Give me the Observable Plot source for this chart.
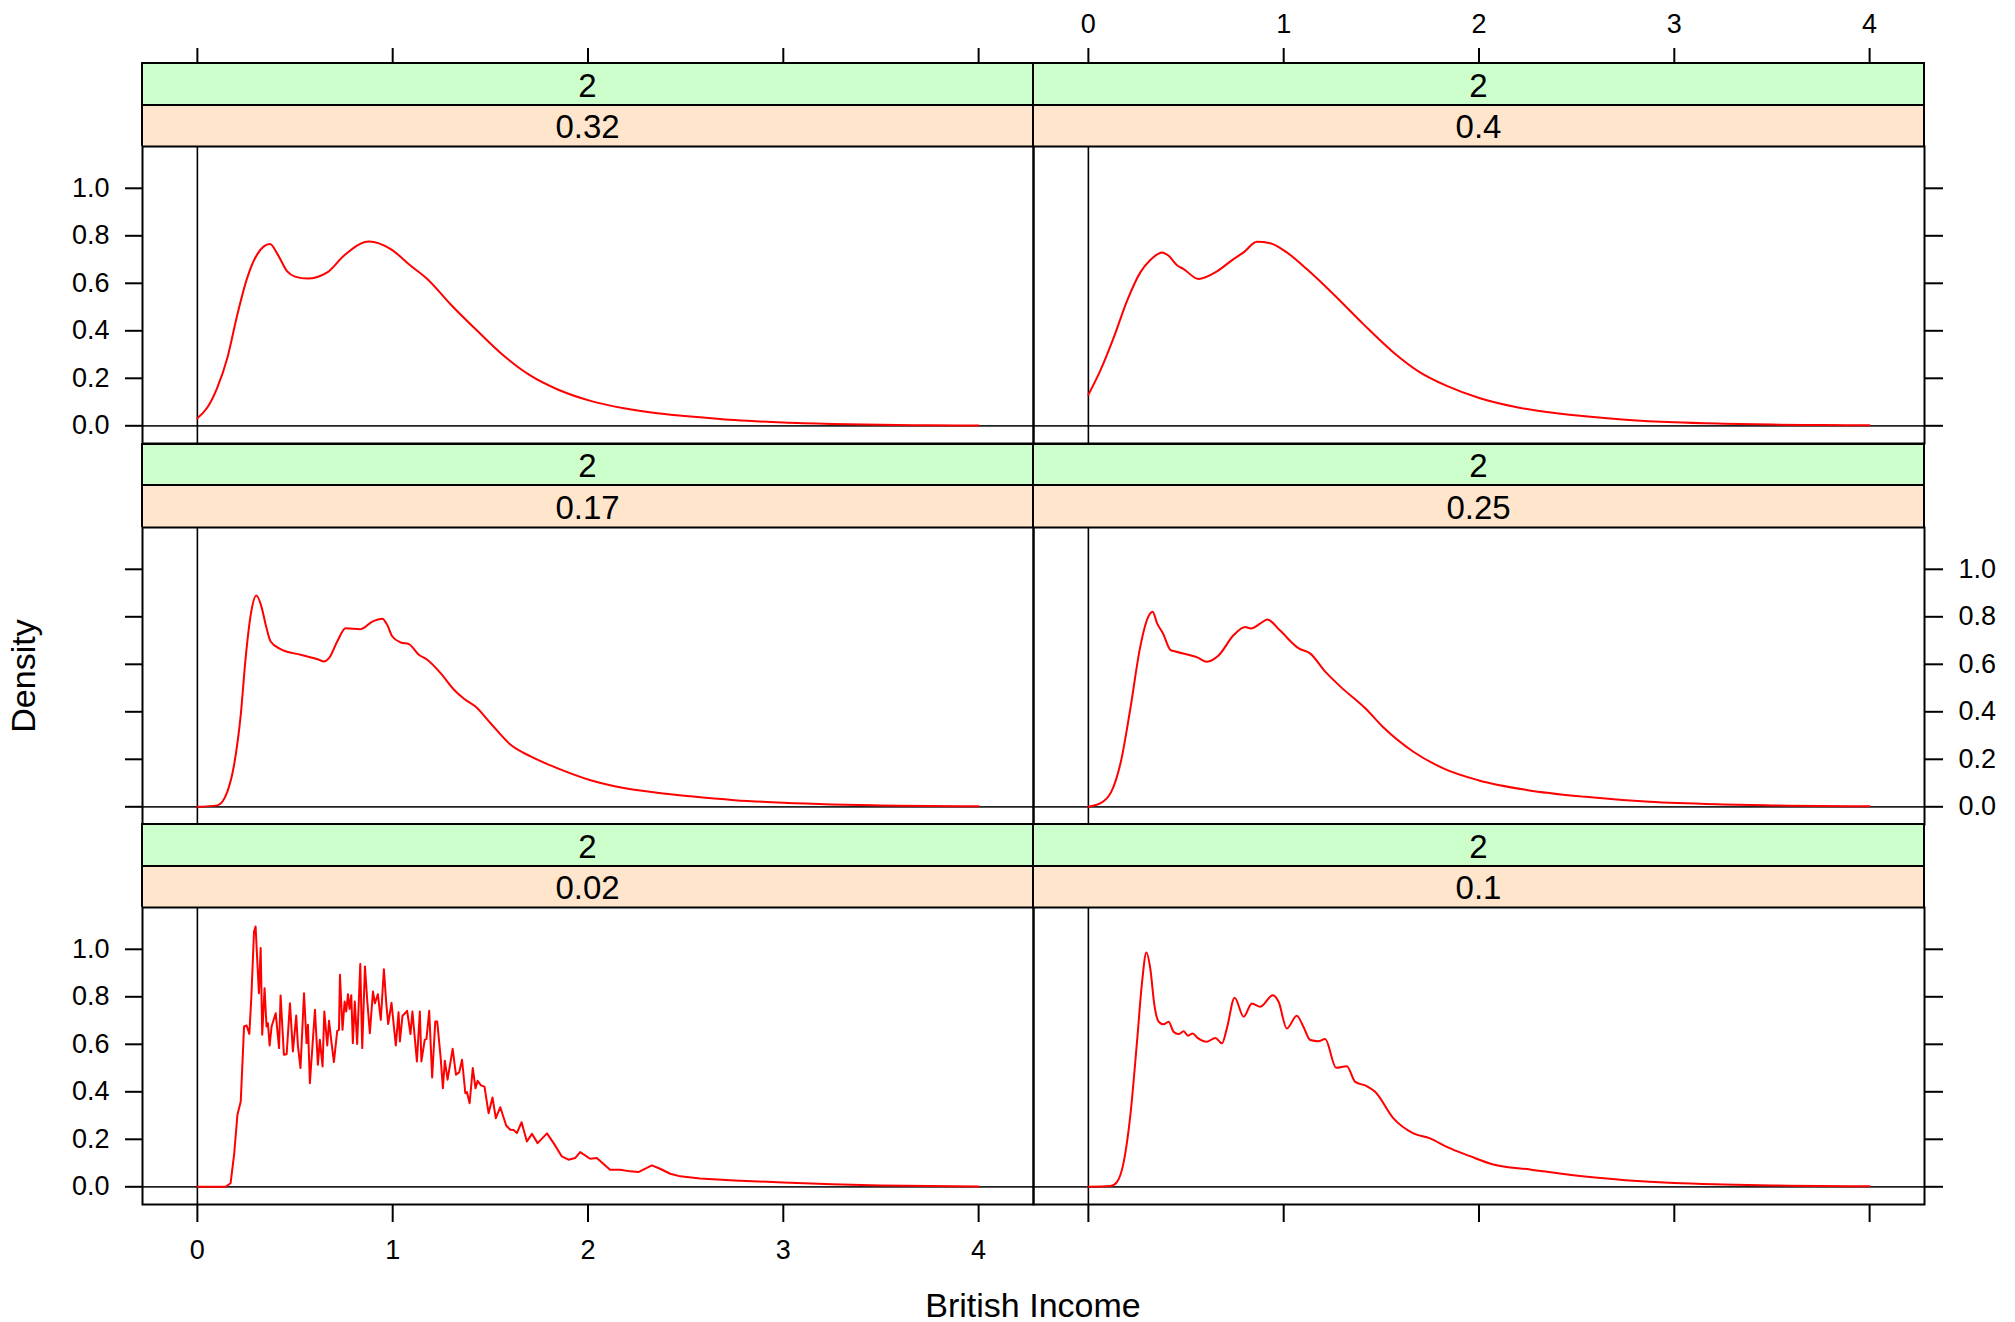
<!DOCTYPE html>
<html><head><meta charset="utf-8">
<script src="https://cdn.jsdelivr.net/npm/d3@7"></script>
<script src="https://cdn.jsdelivr.net/npm/@observablehq/plot@0.6"></script>
<style>
body{margin:0;background:#fff;}
#chart{position:relative;width:2015px;height:1322px;font-family:"Liberation Sans",Arial,Helvetica,sans-serif;overflow:hidden;background:#fff;color:#000}
.strip{position:absolute;box-sizing:border-box;border:2px solid #000;border-bottom:none;}
.stext{position:absolute;font-size:33px;line-height:33px;height:33px;white-space:nowrap;transform:translate(-50%,-50%)}
.title{position:absolute;font-size:34px;white-space:nowrap;transform:translate(-50%,-50%)}
</style></head><body><div id="chart"></div>
<script>
// ---- data ----
const xTicks = [0, 1, 2, 3, 4];
const xTickLabels = ["0", "1", "2", "3", "4"];
const yTicks = [0, 0.2, 0.4, 0.6, 0.8, 1.0];
const yTickLabels = ["0.0", "0.2", "0.4", "0.6", "0.8", "1.0"];
const kernelLabel = "2";
const bandwidths = ["0.32", "0.4", "0.17", "0.25", "0.02", "0.1"];
const xTitle = "British Income";
const yTitle = "Density";

const dens032 = [[0,0.032],[0.051,0.077],[0.102,0.161],[0.154,0.288],[0.205,0.47],[0.256,0.625],[0.307,0.723],[0.372,0.765],[0.41,0.723],[0.46,0.65],[0.5,0.628],[0.563,0.62],[0.665,0.646],[0.75,0.716],[0.879,0.776],[0.99,0.744],[1.092,0.674],[1.177,0.618],[1.296,0.512],[1.433,0.4],[1.569,0.295],[1.706,0.211],[1.842,0.154],[2.013,0.105],[2.184,0.074],[2.354,0.053],[2.525,0.039],[2.75,0.024],[3.0,0.014],[3.25,0.008],[3.5,0.004],[3.75,0.002],[4.0,0.001]];
const dens04 = [[0,0.131],[0.061,0.232],[0.13,0.372],[0.198,0.526],[0.266,0.646],[0.317,0.698],[0.377,0.73],[0.411,0.716],[0.454,0.676],[0.488,0.66],[0.564,0.618],[0.658,0.65],[0.743,0.702],[0.795,0.73],[0.863,0.775],[0.931,0.769],[1.016,0.73],[1.118,0.66],[1.255,0.554],[1.408,0.428],[1.562,0.309],[1.698,0.225],[1.835,0.168],[2.005,0.116],[2.176,0.081],[2.346,0.058],[2.517,0.042],[2.75,0.026],[3.0,0.015],[3.25,0.009],[3.5,0.005],[3.75,0.003],[4.0,0.002]];
const dens017 = [[0,0],[0.102,0.006],[0.154,0.065],[0.188,0.177],[0.222,0.387],[0.247,0.626],[0.273,0.808],[0.302,0.89],[0.328,0.843],[0.35,0.766],[0.375,0.696],[0.426,0.664],[0.529,0.64],[0.623,0.619],[0.648,0.612],[0.674,0.626],[0.716,0.696],[0.759,0.752],[0.836,0.748],[0.896,0.78],[0.947,0.792],[0.972,0.766],[0.998,0.717],[1.041,0.692],[1.083,0.685],[1.134,0.64],[1.177,0.619],[1.245,0.563],[1.314,0.493],[1.365,0.455],[1.424,0.422],[1.501,0.352],[1.604,0.261],[1.706,0.212],[1.842,0.163],[2.013,0.112],[2.184,0.079],[2.354,0.059],[2.525,0.044],[2.75,0.028],[3.0,0.017],[3.25,0.01],[3.5,0.006],[3.75,0.003],[4.0,0.002]];
const dens025 = [[0,0],[0.059,0.014],[0.117,0.063],[0.166,0.189],[0.215,0.414],[0.264,0.667],[0.303,0.793],[0.329,0.821],[0.352,0.772],[0.382,0.73],[0.421,0.66],[0.45,0.653],[0.558,0.629],[0.607,0.611],[0.665,0.636],[0.744,0.723],[0.803,0.757],[0.832,0.751],[0.881,0.772],[0.916,0.789],[0.979,0.744],[1.077,0.667],[1.135,0.646],[1.214,0.568],[1.292,0.505],[1.419,0.414],[1.507,0.337],[1.664,0.232],[1.82,0.161],[1.996,0.112],[2.251,0.07],[2.545,0.042],[2.873,0.021],[3.25,0.01],[3.5,0.006],[3.75,0.003],[4.0,0.002]];
const dens01 = [[0,0],[0.113,0.003],[0.147,0.021],[0.181,0.105],[0.215,0.302],[0.249,0.611],[0.275,0.863],[0.297,0.987],[0.317,0.919],[0.338,0.765],[0.36,0.695],[0.385,0.684],[0.411,0.695],[0.436,0.653],[0.462,0.643],[0.488,0.655],[0.51,0.636],[0.534,0.646],[0.559,0.627],[0.607,0.611],[0.65,0.627],[0.684,0.604],[0.709,0.667],[0.749,0.796],[0.795,0.716],[0.837,0.772],[0.88,0.758],[0.945,0.807],[0.974,0.779],[1.016,0.667],[1.067,0.72],[1.101,0.674],[1.136,0.618],[1.178,0.613],[1.212,0.622],[1.269,0.501],[1.323,0.508],[1.366,0.442],[1.425,0.424],[1.468,0.4],[1.562,0.288],[1.664,0.225],[1.749,0.204],[1.835,0.168],[1.954,0.129],[2.073,0.094],[2.261,0.073],[2.517,0.045],[2.75,0.028],[3.0,0.016],[3.25,0.01],[3.5,0.006],[3.75,0.003],[4.0,0.002]];
const dens002 = [[0,0],[0.145,0],[0.17,0.015],[0.188,0.135],[0.205,0.303],[0.222,0.359],[0.239,0.675],[0.252,0.679],[0.266,0.644],[0.276,0.794],[0.29,1.075],[0.298,1.096],[0.315,0.815],[0.324,1.005],[0.332,0.64],[0.344,0.836],[0.354,0.675],[0.361,0.689],[0.37,0.595],[0.38,0.675],[0.401,0.731],[0.418,0.584],[0.426,0.806],[0.443,0.556],[0.457,0.558],[0.474,0.773],[0.489,0.57],[0.506,0.721],[0.515,0.591],[0.528,0.5],[0.546,0.815],[0.559,0.605],[0.566,0.682],[0.576,0.436],[0.602,0.745],[0.617,0.514],[0.627,0.619],[0.641,0.507],[0.65,0.738],[0.665,0.595],[0.674,0.699],[0.685,0.619],[0.699,0.525],[0.716,0.657],[0.725,0.661],[0.73,0.893],[0.743,0.661],[0.754,0.78],[0.762,0.738],[0.771,0.811],[0.779,0.749],[0.788,0.807],[0.796,0.605],[0.806,0.78],[0.818,0.601],[0.834,0.938],[0.844,0.584],[0.858,0.928],[0.87,0.78],[0.883,0.647],[0.899,0.822],[0.909,0.773],[0.924,0.811],[0.939,0.703],[0.955,0.916],[0.967,0.773],[0.977,0.685],[0.994,0.775],[1.016,0.595],[1.03,0.735],[1.037,0.612],[1.05,0.719],[1.074,0.741],[1.091,0.643],[1.101,0.738],[1.124,0.528],[1.139,0.738],[1.147,0.528],[1.164,0.619],[1.173,0.623],[1.187,0.741],[1.202,0.46],[1.218,0.696],[1.228,0.696],[1.245,0.549],[1.257,0.415],[1.267,0.531],[1.281,0.451],[1.307,0.581],[1.324,0.472],[1.341,0.483],[1.355,0.535],[1.372,0.394],[1.38,0.399],[1.394,0.352],[1.41,0.5],[1.424,0.415],[1.435,0.446],[1.452,0.427],[1.47,0.422],[1.491,0.31],[1.511,0.376],[1.528,0.289],[1.551,0.335],[1.581,0.258],[1.602,0.24],[1.619,0.239],[1.636,0.226],[1.66,0.272],[1.687,0.191],[1.713,0.223],[1.742,0.184],[1.79,0.225],[1.824,0.184],[1.866,0.128],[1.9,0.114],[1.934,0.121],[1.96,0.146],[2.011,0.118],[2.045,0.121],[2.074,0.1],[2.113,0.072],[2.165,0.072],[2.216,0.065],[2.258,0.062],[2.327,0.09],[2.369,0.076],[2.421,0.055],[2.472,0.044],[2.574,0.035],[2.75,0.027],[3.0,0.018],[3.25,0.011],[3.5,0.006],[3.75,0.003],[4.0,0.001]];

// ---- layout ----
const X_DOMAIN = [-0.281, 4.281];
const Y_DOMAIN = [-0.0745, 1.176];
const colX = [142, 1033];
const PW = 891, PH = 297;
const STRIP = 41.5;
const rowTop = r => 63 + r * 380.5;   // top edge of the strip pair
const FONT = '"Liberation Sans", Arial, Helvetica, sans-serif';

const panels = [
  {bw: bandwidths[0], data: dens032, col: 0, row: 0, curve: "monotone-x"},
  {bw: bandwidths[1], data: dens04,  col: 1, row: 0, curve: "monotone-x"},
  {bw: bandwidths[2], data: dens017, col: 0, row: 1, curve: "monotone-x"},
  {bw: bandwidths[3], data: dens025, col: 1, row: 1, curve: "monotone-x"},
  {bw: bandwidths[4], data: dens002, col: 0, row: 2, curve: "linear"},
  {bw: bandwidths[5], data: dens01,  col: 1, row: 2, curve: "monotone-x"}
];

const chart = document.getElementById("chart");
const baseStyle = {overflow: "visible", background: "transparent", fontFamily: FONT, fontSize: "27px", color: "#000", maxWidth: "none"};
const yFmt = d => yTickLabels[yTicks.indexOf(d)];
const xFmt = d => xTickLabels[xTicks.indexOf(d)];
const blank = () => "";

function place(el, left, top) {
  el.style.position = "absolute";
  el.style.left = left + "px";
  el.style.top = top + "px";
  chart.appendChild(el);
}
function strip(left, top, bg, label) {
  const d = document.createElement("div");
  d.className = "strip";
  d.style.left = (left - 1) + "px";
  d.style.top = (top - 1) + "px";
  d.style.width = (PW + 2) + "px";
  d.style.height = (STRIP + 1) + "px";
  d.style.background = bg;
  chart.appendChild(d);
  const s = document.createElement("div");
  s.className = "stext";
  s.style.left = (left + PW / 2) + "px";
  s.style.top = (top + STRIP / 2 + 1) + "px";
  s.textContent = label;
  chart.appendChild(s);
}

for (const p of panels) {
  const top = rowTop(p.row);
  const left = colX[p.col];
  strip(left, top, "#ccffcc", kernelLabel);
  strip(left, top + STRIP, "#ffe5cc", p.bw);
  const pTop = top + 2 * STRIP;

  const marks = [
    Plot.ruleY([0], {stroke: "#222", strokeWidth: 1.8}),
    Plot.ruleX([0], {stroke: "#000", strokeWidth: 1.6}),
    Plot.line(p.data, {x: d => d[0], y: d => d[1], stroke: "#ff0000", strokeWidth: 2, curve: p.curve}),
    Plot.frame({stroke: "#000", strokeWidth: 2})
  ];
  if (p.col === 0) {
    marks.push(Plot.axisY({anchor: "left", ticks: yTicks, tickSize: 17, tickPadding: 16, strokeWidth: 2, label: null,
      tickFormat: p.row === 1 ? blank : yFmt}));
  } else {
    marks.push(Plot.axisY({anchor: "right", ticks: yTicks, tickSize: 18, tickPadding: 16, strokeWidth: 2, label: null,
      tickFormat: p.row === 1 ? yFmt : blank}));
  }
  const hasBottom = p.row === 2;
  if (hasBottom) {
    marks.push(Plot.axisX({anchor: "bottom", ticks: xTicks, tickSize: 18, tickPadding: 17, strokeWidth: 2, label: null,
      tickFormat: p.col === 0 ? xFmt : blank}));
  }
  const svg = Plot.plot({
    width: PW, height: PH, margin: 0,
    x: hasBottom ? {domain: X_DOMAIN} : {domain: X_DOMAIN, axis: null},
    y: {domain: Y_DOMAIN},
    style: baseStyle,
    marks
  });
  place(svg, left, pTop);

  if (p.row === 0) {
    const ax = Plot.plot({
      width: PW, height: 1, margin: 0,
      x: {domain: X_DOMAIN},
      style: baseStyle,
      marks: [Plot.axisX({anchor: "top", ticks: xTicks, tickSize: 16, tickPadding: 15, strokeWidth: 2, label: null,
        tickFormat: p.col === 1 ? xFmt : blank})]
    });
    place(ax, left, top);
  }
}

const xt = document.createElement("div");
xt.className = "title";
xt.style.left = "1033px"; xt.style.top = "1305px";
xt.textContent = xTitle;
chart.appendChild(xt);
const yt = document.createElement("div");
yt.className = "title";
yt.style.left = "23px"; yt.style.top = "676px";
yt.style.transform = "translate(-50%,-50%) rotate(-90deg)";
yt.textContent = yTitle;
chart.appendChild(yt);
</script></body></html>
